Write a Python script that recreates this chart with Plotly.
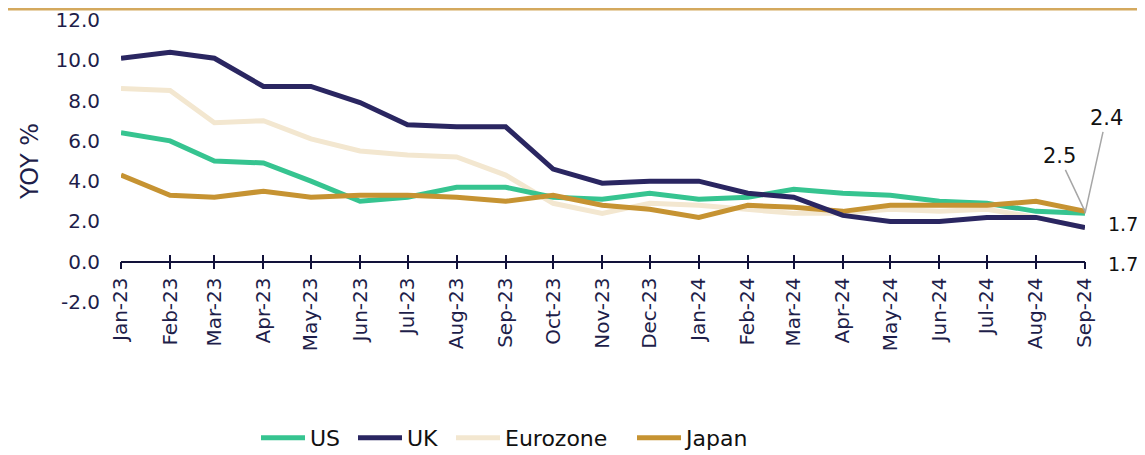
import plotly.graph_objects as go

months = ["2023-01-01","2023-02-01","2023-03-01","2023-04-01","2023-05-01","2023-06-01",
          "2023-07-01","2023-08-01","2023-09-01","2023-10-01","2023-11-01","2023-12-01",
          "2024-01-01","2024-02-01","2024-03-01","2024-04-01","2024-05-01","2024-06-01",
          "2024-07-01","2024-08-01","2024-09-01"]
tick_labels = ["Jan-23","Feb-23","Mar-23","Apr-23","May-23","Jun-23","Jul-23","Aug-23","Sep-23",
               "Oct-23","Nov-23","Dec-23","Jan-24","Feb-24","Mar-24","Apr-24","May-24","Jun-24",
               "Jul-24","Aug-24","Sep-24"]
y_ticks = [-2, 0, 2, 4, 6, 8, 10, 12]
y_tick_labels = ["-2.0", "0.0", "2.0", "4.0", "6.0", "8.0", "10.0", "12.0"]

us = [6.4, 6.0, 5.0, 4.9, 4.0, 3.0, 3.2, 3.7, 3.7, 3.2, 3.1, 3.4, 3.1, 3.2, 3.6, 3.4, 3.3, 3.0, 2.9, 2.5, 2.4]
uk = [10.1, 10.4, 10.1, 8.7, 8.7, 7.9, 6.8, 6.7, 6.7, 4.6, 3.9, 4.0, 4.0, 3.4, 3.2, 2.3, 2.0, 2.0, 2.2, 2.2, 1.7]
eurozone = [8.6, 8.5, 6.9, 7.0, 6.1, 5.5, 5.3, 5.2, 4.3, 2.9, 2.4, 2.9, 2.8, 2.6, 2.4, 2.4, 2.6, 2.5, 2.6, 2.2, 1.7]
japan = [4.3, 3.3, 3.2, 3.5, 3.2, 3.3, 3.3, 3.2, 3.0, 3.3, 2.8, 2.6, 2.2, 2.8, 2.7, 2.5, 2.8, 2.8, 2.8, 3.0, 2.5]

# (name, values, colour, legend id, legend left edge in window px)
series = [
    ("Eurozone", eurozone, "#F3E7D0", "legend3", 451),
    ("US", us, "#36C490", "legend", 256),
    ("Japan", japan, "#C69332", "legend4", 632),
    ("UK", uk, "#2A2661", "legend2", 353),
]

FONT = "DejaVu Sans"
TXT = "#1E1E4A"
BLK = "#111111"

# page body has an 8px margin, so the figure is sized to fit the window
W, H = 1137, 447
L, T, R, B = 113, 12, 60, 153
PW, PH = W - L - R, H - T - B

fig = go.Figure()
legends = {}
for name, vals, color, leg, lx in series:
    fig.add_trace(go.Scatter(x=months, y=vals, name=name, mode="lines",
                             line=dict(color=color, width=5), legend=leg))
    legends[leg] = dict(orientation="h", x=(lx - 8) / W, xanchor="left", xref="container",
                        y=1 - (438 - 8) / H, yanchor="middle", yref="container",
                        font=dict(size=22, color=BLK, family=FONT), itemwidth=44,
                        bgcolor="rgba(0,0,0,0)")

fig.update_layout(
    width=W, height=H,
    paper_bgcolor="white", plot_bgcolor="white",
    margin=dict(l=L, r=R, t=T, b=B, autoexpand=False),
    font=dict(family=FONT, color=TXT),
    showlegend=True,
    **legends,
    xaxis=dict(type="date", range=[months[0], months[-1]], tickvals=months, ticktext=tick_labels,
               tickangle=-90, showgrid=False, showline=True, linecolor="#12123A", linewidth=1.5,
               ticks="outside", ticklen=7, tickcolor="#12123A", tickwidth=1.5,
               anchor="free", position=2/14, tickfont=dict(size=20, color=TXT, family=FONT),
               zeroline=False, automargin=False),
    xaxis2=dict(type="date", range=[months[0], months[-1]], tickvals=months, overlaying="x",
                showticklabels=False, showgrid=False, ticks="inside", ticklen=7,
                tickcolor="#12123A", tickwidth=1.5, anchor="free", position=2/14, showline=False,
                automargin=False),
    yaxis=dict(range=[-2, 12], tickvals=y_ticks, ticktext=y_tick_labels,
               showgrid=False, zeroline=False, showline=False, ticks="",
               tickfont=dict(size=20, color=TXT, family=FONT), ticklabelstandoff=20,
               automargin=False,
               title=dict(text="YOY %", font=dict(size=24, color=TXT, family=FONT), standoff=10)),
)

# dummy trace for the overlaid tick axis
fig.add_trace(go.Scatter(x=[months[0]], y=[None], xaxis="x2", showlegend=False, hoverinfo="skip"))

last = months[-1]
afont = dict(size=21, color=BLK, family=FONT)
fig.add_annotation(x=last, y=us[-1], text="2.4", showarrow=True, arrowhead=0, arrowwidth=1.5,
                   arrowcolor="#A6A6A6", ax=21, ay=-95, font=afont)
fig.add_annotation(x=last, y=japan[-1], text="2.5", showarrow=True, arrowhead=0, arrowwidth=1.5,
                   arrowcolor="#A6A6A6", ax=-26, ay=-55, font=afont)
fig.add_annotation(x=last, y=eurozone[-1], text="1.7", showarrow=False, xanchor="left",
                   xshift=21, yshift=3, font=dict(size=19, color=BLK, family=FONT))
fig.add_annotation(x=last, y=uk[-1], text="1.7", showarrow=False, xanchor="left",
                   xshift=21, yshift=-37, font=dict(size=19, color=BLK, family=FONT))

# elbow connectors for the 1.7 labels (pixel offsets from the last point)
grey = dict(color="#A6A6A6", width=1.5)
for (x0, y0, x1, y1) in [(2, 6, 15, 6), (2, 6, 2, -1), (2, -1, 6, -35), (6, -35, 18, -36)]:
    fig.add_shape(type="line", xref="x", yref="y", xsizemode="pixel", ysizemode="pixel",
                  xanchor=last, yanchor=uk[-1], x0=x0, y0=y0, x1=x1, y1=y1, line=grey)

# gold rule across the top of the figure
fig.add_shape(type="line", xref="paper", yref="paper",
              x0=-L / PW, x1=(W - L) / PW, y0=(PH + T - 1) / PH, y1=(PH + T - 1) / PH,
              line=dict(color="#D4A95E", width=3), layer="above")

fig.write_html("out.html")
